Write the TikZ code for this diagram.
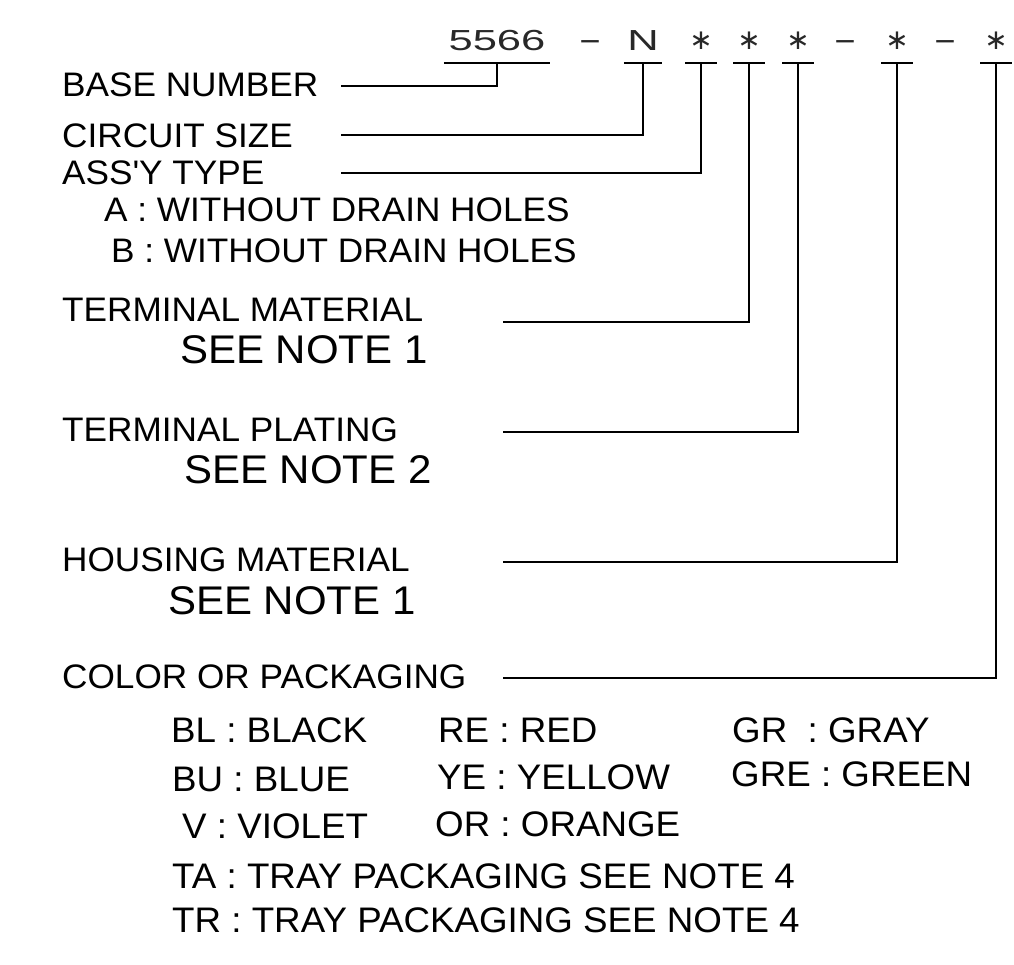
\documentclass[tikz,border=0pt]{standalone}
\usepackage{fontspec}
\setmainfont[FakeStretch=1.035]{Liberation Sans}
\newfontfamily\notefont[FakeStretch=1.05]{Liberation Sans}
\newfontfamily\codefont[FakeStretch=1.5]{Liberation Sans}
\newfontfamily\symfont{DejaVu Sans}
\usetikzlibrary{positioning}
\definecolor{inkgray}{RGB}{40,40,40}

\newcommand{\lblsize}{\fontsize{34}{40}\selectfont}
\newcommand{\notesize}{\notefont\fontsize{40}{46}\selectfont}
\newcommand{\optsize}{\fontsize{35.5}{42}\selectfont}

\begin{document}
\begin{tikzpicture}[x=1pt, y=-1pt,
  lbl/.style={anchor=west, inner sep=0pt, font=\lblsize},
  notelbl/.style={anchor=west, inner sep=0pt, font=\notesize},
  optlbl/.style={anchor=west, inner sep=0pt, font=\optsize},
  code/.style={anchor=south, inner sep=0pt, text height=21pt, text depth=12pt,
    font=\codefont\fontsize{29}{34}\selectfont, text=inkgray},
  codesym/.style={code, text depth=13pt, font=\symfont\fontsize{28}{32}\selectfont},
  codedash/.style={code, text depth=12pt, font=\symfont\fontsize{28}{32}\selectfont},
  lead/.style={line width=1.3pt}]

\useasboundingbox (0,0) rectangle (1014,964);

% ---- Part number: 5566 - N * * * - * - * ----
\node[code, minimum width=106pt] (base) at (497,63) {5566};
\node[code, minimum width=38pt] (ckt) at (643,63) {N};
\foreach \n/\x in {asy/701, tmat/749, tpl/798, hmat/897, col/996}{
  \node[codesym, minimum width=31pt] (\n) at (\x,63) {∗};
}
\node[codedash] (d1) at (590,63) {−};
\node[codedash] (d2) at (845,63) {−};
\node[codedash] (d3) at (945,63) {−};

\foreach \n in {base, ckt, asy, tmat, tpl, hmat, col}{
  \draw[lead] (\n.south west) -- (\n.south east);
}

% ---- Field labels ----
\node[lbl] (bn)  at (62,85)  {BASE NUMBER};
\node[lbl] (cs)  at (62,136) {CIRCUIT SIZE};
\node[lbl] (at)  at (62,173) {ASS\textquotesingle Y TYPE};
\node[lbl] (ata) at (104,210) {A : WITHOUT DRAIN HOLES};
\node[lbl] (atb) at (111,251) {B : WITHOUT DRAIN HOLES};

\node[lbl] (tm)  at (62,310) {TERMINAL MATERIAL};
\node[notelbl] (tmn) at (180,350) {SEE NOTE 1};
\node[lbl] (tp)  at (62,430) {TERMINAL PLATING};
\node[notelbl] (tpn) at (184,470) {SEE NOTE 2};
\node[lbl] (hm)  at (62,560) {HOUSING MATERIAL};
\node[notelbl] (hmn) at (168,601) {SEE NOTE 1};
\node[lbl] (cp)  at (62,677) {COLOR OR PACKAGING};

% ---- Leader lines ----
\foreach \n/\x/\y in {base/341/86, ckt/341/135, asy/341/173,
                      tmat/503/322, tpl/503/432, hmat/503/562, col/503/678}{
  \coordinate (s-\n) at (\x,\y);
  \draw[lead] (s-\n) -| (\n.south);
}

% ---- Color / packaging codes ----
\node[optlbl] (bl) at (171,730) {BL : BLACK};
\node[optlbl] (re) at (438,730) {RE : RED};
\node[optlbl] (gr) at (732,730) {GR~~: GRAY};
\node[optlbl] (bu) at (172,779) {BU : BLUE};
\node[optlbl] (ye) at (437,777) {YE : YELLOW};
\node[optlbl] (gre) at (731,774) {GRE : GREEN};
\node[optlbl] (vi) at (182,826) {V : VIOLET};
\node[optlbl] (or) at (435,824) {OR : ORANGE};
\node[optlbl] (ta) at (172,876) {TA : TRAY PACKAGING SEE NOTE 4};
\node[optlbl] (tr) at (172,920) {TR : TRAY PACKAGING SEE NOTE 4};

\end{tikzpicture}
\end{document}
